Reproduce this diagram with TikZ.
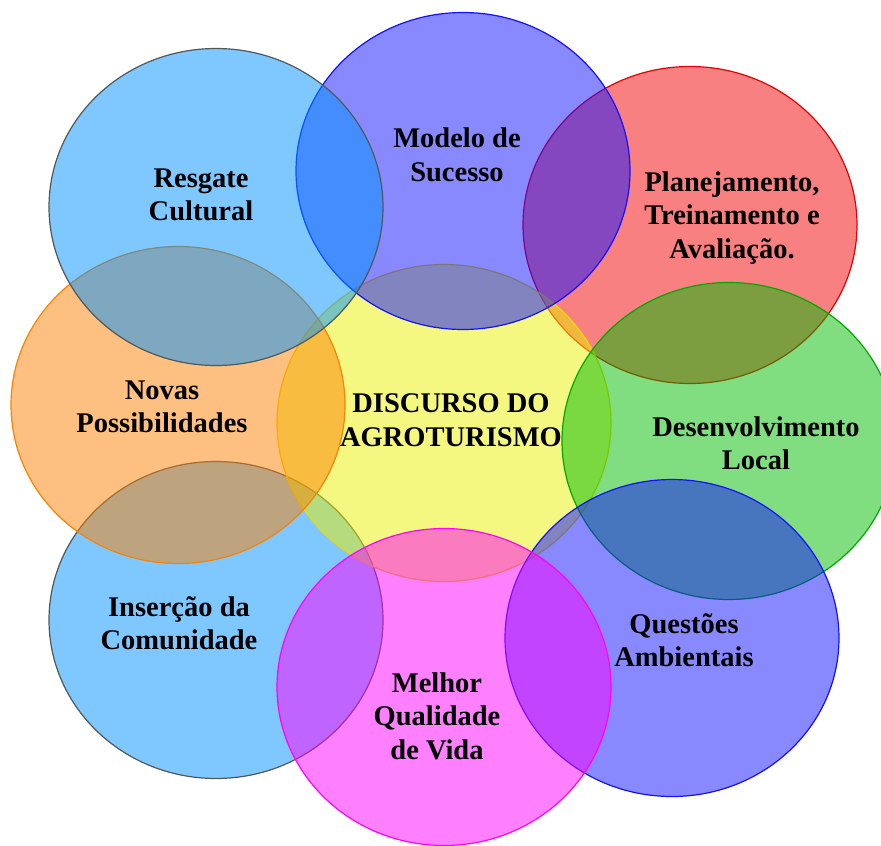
\documentclass[tikz,border=0pt]{standalone}
\usepackage{fontspec}
\setmainfont{Liberation Serif}
\usetikzlibrary{shapes.geometric}

\definecolor{cultblue}{RGB}{0,146,255}
\definecolor{succblue}{RGB}{17,17,255}
\definecolor{planred}{RGB}{241,1,1}
\definecolor{devgreen}{RGB}{1,187,1}
\definecolor{coreyellow}{RGB}{235,241,1}
\definecolor{novaorange}{RGB}{251,129,1}
\definecolor{lifemagenta}{RGB}{255,1,255}
\definecolor{rimgrey}{RGB}{80,88,88}

\begin{document}
\begin{tikzpicture}[x=1pt, y=-1pt]
        \tikzset{bubble/.style = {shape=ellipse, minimum width=334pt, minimum height=317pt, inner sep=0pt, line width=1.2pt, fill opacity=0.5}}
        \tikzset{txt/.style = {align=center, text=black, font=\bfseries\fontsize{28.5}{33.5}\selectfont}}
        \useasboundingbox (0,0) rectangle (881,846);
        % bubbles, from the bottom up
        \node[bubble, draw=planred!95!black, fill=planred] (plan) at (690,225) {};
        \node[bubble, draw=rimgrey, fill=cultblue] (comm) at (216,620) {};
        \node[bubble, draw=coreyellow!90!red, fill=coreyellow] (core) at (444,423) {};
        \node[bubble, draw=devgreen!90!black, fill=devgreen] (dev) at (729,441) {};
        \node[bubble, draw=succblue, fill=succblue] (env) at (672,638) {};
        \node[bubble, draw=lifemagenta, fill=lifemagenta] (life) at (444,687) {};
        \node[bubble, draw=novaorange, fill=novaorange] (nova) at (178,405) {};
        \node[bubble, draw=succblue, fill=succblue] (model) at (463,171) {};
        \node[bubble, draw=rimgrey, fill=cultblue] (cult) at (216,207) {};
        % texts
        \node[txt] (cultT) at (201,195) {Resgate\\Cultural};
        \node[txt] (modelT) at (457,155) {Modelo de\\Sucesso};
        \node[txt] (planT) at (732,218) {Planejamento,\\Treinamento e\\Avaliação.};
        \node[txt] (novaT) at (162,407) {Novas\\Possibilidades};
        \node[txt] (coreT) at (451,420) {DISCURSO DO\\AGROTURISMO};
        \node[txt] (devT) at (756,443) {Desenvolvimento\\Local};
        \node[txt] (commT) at (179,623) {Inserção da\\Comunidade};
        \node[txt] (envT) at (684,640) {Questões\\Ambientais};
        \node[txt] (lifeT) at (437,716) {Melhor\\Qualidade\\de Vida};
\end{tikzpicture}
\end{document}
